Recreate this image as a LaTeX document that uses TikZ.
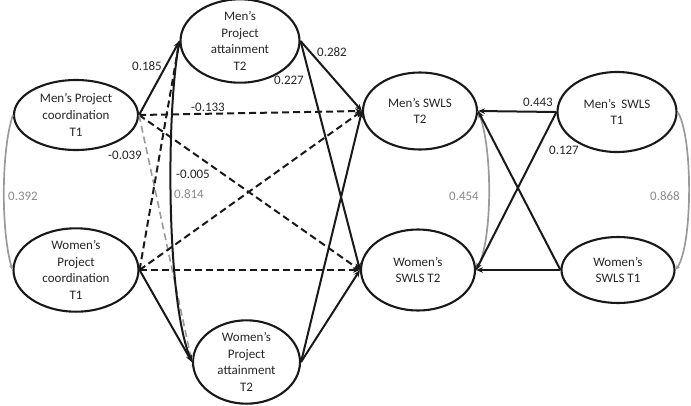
\documentclass[tikz,border=0pt]{standalone}
\usepackage{fontspec}
\setmainfont{Carlito}
\usetikzlibrary{shapes.geometric,arrows.meta}
\definecolor{cvgray}{HTML}{9A9A9A}
\definecolor{lbgray}{HTML}{8A8A8A}
\begin{document}
\begin{tikzpicture}[x=1pt,y=-1pt,
  every node/.style={font=\fontsize{13}{16.6}\selectfont},
  latent/.style={ellipse,draw=black!90,line width=2.1pt,inner sep=0pt,align=center,text=black!85},
  path/.style={draw=black!90,line width=2pt,-{Stealth[length=7pt,width=5.5pt]}},
  dpath/.style={path,dash pattern=on 7pt off 4pt},
  gdpath/.style={dpath,draw=cvgray,line width=1.6pt,-{Stealth[length=6pt,width=5pt]}},
  cov/.style={draw=cvgray,line width=1.7pt,-{Stealth[length=5pt,width=4pt]}},
  lab/.style={inner sep=1pt,text=black!85},
  glab/.style={inner sep=1pt,text=lbgray}]
\useasboundingbox (0,0) rectangle (691,405);
% nodes
\node[latent,minimum width=124pt,minimum height=70pt] (MPC) at (76,115) {Men’s Project\\coordination\\T1};
\node[latent,minimum width=119pt,minimum height=77pt] (MPA) at (240,41) {Men’s\\Project\\attainment\\T2};
\node[latent,minimum width=125pt,minimum height=75pt] (WPC) at (76,270) {Women’s\\Project\\coordination\\T1};
\node[latent,minimum width=107pt,minimum height=83pt] (WPA) at (246.5,362) {Women’s\\Project\\attainment\\T2};
\node[latent,minimum width=114pt,minimum height=77pt] (MS2) at (420,111) {Men’s SWLS\\T2};
\node[latent,minimum width=119pt,minimum height=80pt] (MS1) at (617,112) {Men’s\ \ SWLS\\T1};
\node[latent,minimum width=114pt,minimum height=81pt] (WS2) at (418,270) {Women’s\\SWLS T2};
\node[latent,minimum width=113pt,minimum height=66pt] (WS1) at (618,270) {Women’s\\SWLS T1};
% covariances
\draw[cov] (MPC.west) .. controls (1,150) and (1,232) .. (WPC.west);
\draw[cov] (MS2.east) .. controls (493,145) and (493,240) .. (WS2.east);
\draw[cov] (MS1.east) .. controls (693,135) and (693,245) .. (WS1.east);
% project coordination paths
\draw[path] (MPC.east) -- (MPA.west);
\draw[dpath] (MPC.east) -- (MS2.west);
\draw[dpath] (MPC.east) -- (WS2.west);
\draw[gdpath] (MPC.east) -- (WPA.west);
\draw[dpath] (WPC.east) -- (MPA.west);
\draw[dpath] (WPC.east) -- (MS2.west);
\draw[dpath] (WPC.east) -- (WS2.west);
\draw[path] (WPC.east) -- (WPA.west);
\draw[path] (MPA.west) .. controls (166,110) and (166,300) .. (WPA.west);
% attainment paths
\draw[path] (MPA.east) -- (MS2.west);
\draw[path] (MPA.east) -- (WS2.west);
\draw[path] (WPA.east) -- (MS2.west);
\draw[path] (WPA.east) -- (WS2.west);
% SWLS paths
\draw[path] (MS1.west) -- (MS2.east);
\draw[path] (MS1.west) -- (WS2.east);
\draw[path] (WS1.west) -- (WS2.east);
\draw[path] (WS1.west) -- (MS2.east);
% labels
\node[lab] (l1) at (147,66) {0.185};
\node[lab] (l2) at (208,107) {-0.133};
\node[lab] (l3) at (125,155) {-0.039};
\node[lab] (l4) at (193,174) {-0.005};
\node[glab] (l5) at (189,194) {0.814};
\node[lab] (l6) at (332,52) {0.282};
\node[lab] (l7) at (289,80) {0.227};
\node[lab] (l8) at (538,102) {0.443};
\node[lab] (l9) at (564,150) {0.127};
\node[glab] (l10) at (23,196) {0.392};
\node[glab] (l11) at (464,196) {0.454};
\node[glab] (l12) at (665,196) {0.868};
\end{tikzpicture}
\end{document}
